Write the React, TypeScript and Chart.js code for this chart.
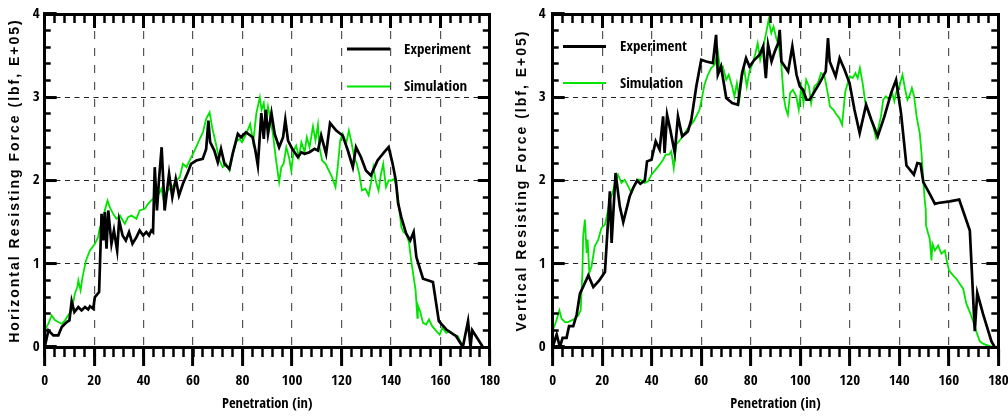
import React, { useEffect, useRef, useState } from 'react';
import { Chart, registerables } from 'chart.js';

Chart.register(...registerables);

// ---------- data ----------
const xTickStep = 20;
const xMinorStep = 4;
const yTickStep = 1;
const yMinorStep = 0.2;
const xRange = [0, 180];
const yRange = [0, 4];

const seriesLabels = ['Experiment', 'Simulation'];
const xTitle = 'Penetration (in)';
const leftYTitle = 'Horizontal Resisting Force (lbf, E+05)';
const rightYTitle = 'Vertical Resisting Force (lbf, E+05)';

const horizExpX = [0, 1.5, 3.5, 5.5, 6.9, 8.9, 10, 10.9, 12, 13.6, 14.9, 16.3, 17.6, 18.3, 19.6, 20.3, 22, 23, 23.7, 24.3, 25, 25.7, 27, 28, 29.3, 30.1, 31.5, 32.8, 34.1, 35.5, 37.1, 38.4, 39.8, 41.1, 42.2, 43.1, 43.8, 44.5, 45.4, 46.2, 47.3, 48.5, 50.3, 51.6, 53, 54.3, 55.9, 57.9, 59.2, 61.3, 63.9, 65.3, 66.2, 66.9, 68.6, 70, 71.3, 72.7, 74.7, 76, 78.1, 79.4, 81.4, 84.1, 85.2, 86.2, 87.6, 88.6, 89.4, 90.3, 91.7, 93, 94.8, 96.4, 97.3, 98.4, 100.1, 102.4, 103.8, 105.1, 107.1, 109.1, 110.5, 111.8, 113.8, 115.4, 117.9, 120.5, 122.6, 124.6, 125.9, 127.9, 129.9, 131.9, 134.6, 137.3, 139.1, 140.7, 142, 142.9, 144.2, 146.2, 147.8, 149.2, 150.3, 153, 157, 159.4, 162.4, 166.4, 169.1, 171.2, 172.2, 172.9, 177.2];
const horizExpY = [0, 0.2, 0.14, 0.14, 0.24, 0.3, 0.32, 0.55, 0.42, 0.48, 0.44, 0.48, 0.45, 0.49, 0.46, 0.6, 0.66, 1.6, 1.28, 1.62, 1.18, 1.64, 1.24, 1.4, 1.16, 1.52, 1.34, 1.28, 1.38, 1.24, 1.32, 1.4, 1.34, 1.38, 1.34, 1.4, 1.38, 2.16, 1.64, 2.0, 2.4, 1.64, 2.08, 1.8, 2.02, 1.82, 1.96, 2.1, 2.2, 2.24, 2.26, 2.38, 2.72, 2.46, 2.36, 2.22, 2.38, 2.2, 2.14, 2.32, 2.56, 2.52, 2.58, 2.52, 2.36, 2.18, 2.81, 2.5, 2.85, 2.56, 2.81, 2.56, 2.4, 2.52, 2.73, 2.48, 2.38, 2.28, 2.34, 2.32, 2.34, 2.38, 2.36, 2.54, 2.32, 2.69, 2.6, 2.54, 2.36, 2.16, 2.4, 2.28, 2.12, 2.06, 2.24, 2.34, 2.4, 2.2, 2.0, 1.73, 1.56, 1.36, 1.28, 1.38, 1.08, 0.82, 0.78, 0.31, 0.21, 0.13, 0, 0.31, 0, 0.2, 0];

const horizSimX = [0, 1.5, 2.8, 4.2, 5.5, 6.9, 8.2, 9.5, 10.9, 12.2, 13.2, 13.6, 14.5, 15.3, 16.7, 18.3, 20.3, 21.6, 22.3, 23.7, 24.3, 25.4, 26.3, 27.7, 29, 30.4, 32.4, 33.7, 35.1, 37.1, 38.4, 40.5, 41.8, 43.1, 44.5, 45.8, 47.2, 48.1, 49.2, 50.5, 51.6, 53.2, 54.6, 55.9, 57.3, 58.6, 60.6, 62.4, 64, 65.3, 66.7, 67.7, 69.1, 70.7, 72, 73.4, 74.7, 76.1, 77.4, 78.8, 79.8, 81.5, 83.1, 84.3, 85.6, 87, 87.7, 88.6, 89.4, 90.3, 91.3, 92.3, 93.4, 94.8, 95.7, 96.6, 97.7, 98.8, 99.7, 100.7, 101.7, 102.8, 103.8, 105.1, 106, 107.1, 108.5, 109.5, 110.5, 111.1, 112.2, 113.6, 114.9, 116.2, 117.6, 118.5, 119.5, 120.5, 121.9, 123, 123.9, 125.2, 126.2, 127.2, 128.3, 129.7, 131, 132, 132.9, 134, 135, 136, 136.9, 138, 139.1, 140.4, 141.3, 142.3, 143.3, 144.2, 145.1, 146.2, 147.3, 148.2, 149.2, 150, 150.7, 150.9, 151.9, 153, 154.3, 155.4, 156.7, 158.4, 159.7, 160.8, 162.4, 163.7, 165.1, 167.1, 169.1, 171.2, 173.2, 175.9, 179.2];
const horizSimY = [0.2, 0.28, 0.38, 0.32, 0.3, 0.28, 0.32, 0.38, 0.44, 0.64, 0.72, 0.8, 0.68, 0.84, 1.04, 1.16, 1.24, 1.32, 1.44, 1.48, 1.64, 1.76, 1.68, 1.6, 1.54, 1.58, 1.48, 1.56, 1.58, 1.54, 1.64, 1.66, 1.72, 1.76, 1.8, 1.82, 1.9, 1.76, 1.86, 1.9, 1.92, 2.0, 2.04, 2.2, 2.16, 2.24, 2.36, 2.48, 2.58, 2.74, 2.82, 2.64, 2.46, 2.24, 2.16, 2.2, 2.12, 2.32, 2.46, 2.5, 2.46, 2.56, 2.68, 2.46, 2.81, 3.0, 2.85, 2.93, 2.69, 2.89, 2.73, 2.56, 2.28, 1.98, 2.16, 2.2, 2.4, 2.28, 2.12, 2.36, 2.42, 2.28, 2.46, 2.34, 2.52, 2.4, 2.65, 2.48, 2.67, 2.4, 2.24, 2.2, 2.12, 2.04, 1.92, 2.16, 2.48, 2.56, 2.44, 2.6, 2.48, 2.28, 2.2, 2.08, 1.88, 1.9, 1.82, 1.98, 2.16, 1.98, 1.88, 2.08, 2.2, 1.92, 2.0, 2.0, 2.02, 1.92, 1.69, 1.44, 1.38, 1.36, 1.26, 1.04, 0.84, 0.68, 0.35, 0.5, 0.42, 0.29, 0.27, 0.33, 0.25, 0.19, 0.15, 0.23, 0.17, 0.19, 0.15, 0.13, 0, -0.04, 0, 0, 0];

const vertExpX = [0, 1.6, 2.9, 4, 5.6, 6.6, 8.3, 9.7, 11, 12.4, 14.4, 16.4, 18.8, 21.1, 23.1, 23.8, 25.4, 27.1, 28.5, 31.1, 32.5, 34.1, 35.4, 37.2, 38.1, 39.9, 41.6, 43.2, 44.6, 45.2, 46.2, 47.5, 49.3, 50.6, 52.3, 54.6, 56, 58, 60, 62, 64.7, 66, 66.7, 68, 70.1, 72.5, 74.8, 76.5, 78.1, 79.5, 81.5, 83.6, 85, 86.1, 87, 88.4, 89.7, 91.1, 91.7, 92.4, 95.1, 96.8, 98.5, 99.8, 101.1, 102.5, 103.8, 105.8, 107.8, 110.3, 111.2, 111.9, 114.3, 115.9, 117.9, 119.9, 121.9, 124, 126.6, 128.7, 131.3, 134, 136.7, 138.7, 140.7, 142.9, 145.9, 147.3, 148.6, 149.7, 152.3, 154.4, 155.7, 160.4, 164.2, 168.5, 170.5, 171.5, 173.8, 177.2, 178.5];
const vertExpY = [0, 0.15, 0, 0.11, 0.11, 0.25, 0.25, 0.39, 0.64, 0.73, 0.86, 0.72, 0.8, 0.9, 1.87, 1.25, 2.09, 1.69, 1.5, 1.81, 1.91, 2.0, 1.96, 2.0, 2.23, 2.25, 2.47, 2.37, 2.77, 2.33, 2.79, 2.61, 2.33, 2.77, 2.53, 2.59, 2.73, 3.13, 3.45, 3.43, 3.41, 3.75, 3.27, 3.37, 2.99, 2.93, 2.91, 3.29, 3.47, 3.37, 3.45, 3.51, 3.61, 3.23, 3.63, 3.43, 3.55, 3.65, 3.81, 3.43, 3.31, 3.61, 3.27, 3.13, 3.09, 2.97, 2.97, 3.07, 3.17, 3.31, 3.71, 3.43, 3.25, 3.47, 3.33, 3.17, 2.85, 2.57, 2.91, 2.73, 2.53, 2.77, 3.05, 3.21, 2.81, 2.18, 2.07, 2.21, 2.2, 1.98, 1.84, 1.72, 1.73, 1.75, 1.77, 1.4, 0.19, 0.65, 0.4, 0.07, 0];

const vertSimX = [0, 1.3, 2.7, 3.6, 5, 6.3, 7.6, 9, 10.3, 11.3, 12, 12.3, 13, 13.7, 14.1, 14.8, 15.7, 17, 18.4, 19.7, 21.1, 22.4, 23.1, 24.2, 25.1, 26.4, 27.8, 29.1, 30.5, 31.8, 32.8, 34.1, 35.4, 37.2, 38.5, 39.9, 41.6, 43.2, 44.6, 45.6, 47, 47.9, 48.9, 49.9, 51.5, 52.9, 54.2, 55.3, 56.9, 58.3, 59.3, 60.4, 61.3, 62.7, 64, 65.4, 66.7, 67.7, 68.7, 70.1, 71.1, 72.5, 73.4, 74.4, 75.4, 76.5, 77.4, 78.4, 79.5, 80.8, 81.9, 82.8, 83.8, 84.8, 86.2, 87.2, 88.3, 89.2, 90.3, 91.4, 92.3, 93.3, 94.1, 95, 95.9, 97, 98.4, 99.4, 100.4, 101.3, 102.4, 103.5, 104.4, 105.7, 107.1, 108.4, 109.8, 111.1, 112, 113.4, 114.7, 115.8, 116.9, 118.2, 119.2, 120.1, 121.2, 122.3, 123.2, 124.1, 125.2, 126.3, 127.2, 128.6, 129.5, 130.6, 131.7, 132.6, 133.5, 134.6, 135.9, 137, 138, 138.9, 140, 141.3, 142.4, 143.3, 144.3, 145.1, 146, 147, 148.3, 149, 149.7, 150.3, 150.7, 150.8, 151.7, 152.3, 153, 153.4, 154.4, 155.7, 157, 158.4, 159.3, 160.1, 161.7, 163.1, 164.4, 165.8, 167.1, 168.5, 169.8, 171.1, 172.5, 173.8, 176.5, 179.2];
const vertSimY = [0.2, 0.3, 0.44, 0.34, 0.3, 0.3, 0.32, 0.34, 0.38, 0.44, 0.89, 1.33, 1.53, 1.13, 1.29, 0.89, 0.97, 1.21, 1.29, 1.43, 1.47, 1.65, 1.77, 1.85, 1.97, 2.07, 1.97, 2.01, 1.93, 1.85, 1.93, 2.01, 2.01, 1.97, 1.99, 2.07, 2.13, 2.19, 2.25, 2.31, 2.31, 2.35, 2.15, 2.43, 2.49, 2.55, 2.61, 2.65, 2.71, 2.79, 2.85, 3.01, 3.15, 3.27, 3.35, 3.39, 3.55, 3.33, 3.37, 3.21, 3.27, 3.13, 3.01, 3.17, 2.97, 3.25, 3.33, 3.13, 3.31, 3.41, 3.53, 3.65, 3.45, 3.57, 3.77, 3.93, 3.77, 3.85, 3.71, 3.61, 3.41, 3.01, 2.87, 2.79, 3.05, 3.09, 3.01, 2.85, 3.13, 2.93, 3.21, 3.13, 2.93, 3.13, 3.17, 3.29, 3.25, 3.05, 2.89, 2.85, 2.79, 2.75, 2.67, 3.07, 3.17, 3.25, 3.23, 3.29, 3.23, 3.35, 3.17, 2.93, 2.85, 2.73, 2.65, 2.51, 2.65, 2.77, 2.97, 3.01, 2.97, 3.07, 2.95, 3.07, 3.13, 3.27, 3.09, 2.97, 3.03, 3.11, 3.01, 2.77, 2.56, 2.32, 2.0, 1.76, 1.65, 1.46, 1.36, 1.3, 1.04, 1.24, 1.16, 1.22, 1.12, 1.16, 1.02, 0.92, 0.86, 0.82, 0.76, 0.7, 0.52, 0.42, 0.31, 0.19, 0.07, 0.04, 0.01, 0];

// ---------- styles ----------
const SANS = '"Liberation Sans", Arial, sans-serif';
const GREEN = '#00e400';
const BLACK = '#000000';

interface NarrowFont {
  weight: string;
  family: string;
  titleSize: number;
  tickSize: number;
  legendSize: number;
}

function detectNarrowFont(): NarrowFont {
  const c = document.createElement('canvas').getContext('2d') as CanvasRenderingContext2D;
  const w = (f: string, s: string) => {
    c.font = '10px serif';
    c.font = f;
    if (c.font === '10px serif') return -1;
    return c.measureText(s).width;
  };
  const sample = 'Penetration (in) 0123456789 Experiment';
  const namedExists = (fam: string) =>
    w(`bold 20px ${fam}, monospace`, sample) !== w('bold 20px monospace', sample) &&
    w(`bold 20px ${fam}, serif`, sample) !== w('bold 20px serif', sample);
  const candidates = [
    { weight: 'bold', family: '"Liberation Sans Narrow"', named: true },
    { weight: 'bold', family: '"Arial Narrow"', named: true },
    { weight: 'bold', family: '"Noto Sans Condensed"', named: true },
    { weight: 'bold condensed', family: '"Noto Sans"', named: false },
    { weight: 'bold', family: '"Open Sans Condensed"', named: true },
    { weight: 'bold condensed', family: '"Open Sans"', named: false },
    { weight: 'bold', family: '"Roboto Condensed"', named: true },
    { weight: 'bold semi-condensed', family: '"Liberation Sans"', named: false },
    { weight: 'bold', family: '"DejaVu Sans Condensed"', named: true },
    { weight: 'bold semi-condensed', family: '"DejaVu Sans"', named: false },
  ];
  let chosen = { weight: 'bold', family: '"Liberation Sans"' };
  let narrow = false;
  for (const cand of candidates) {
    if (cand.named) {
      if (namedExists(cand.family)) { chosen = cand; narrow = true; break; }
    } else {
      const cw = w(`${cand.weight} 20px ${cand.family}`, sample);
      const nw = w(`bold 20px ${cand.family}`, sample);
      if (cw > 0 && nw > 0 && cw < 0.95 * nw) { chosen = cand; narrow = true; break; }
    }
  }
  const fam = `${chosen.family}, ${SANS}`;
  return {
    weight: chosen.weight,
    family: fam,
    titleSize: narrow ? 14.5 : 12.5,
    tickSize: narrow ? 15 : 13,
    legendSize: narrow ? 15 : 12.5,
  };
}

const toPoints = (xs: number[], ys: number[]) => xs.map((x, i) => ({ x, y: ys[i] }));

const noPad = (s: any) => {
  s.paddingLeft = 0;
  s.paddingRight = 0;
  s.paddingTop = 0;
  s.paddingBottom = 0;
};

const lineLegendPlugin = {
  id: 'lineLegend',
  afterDraw(chart: any, _args: any, opts: any) {
    const ctx = chart.ctx;
    chart.data.datasets.forEach((ds: any, i: number) => {
      const y = opts.y + i * opts.dy;
      ctx.save();
      ctx.strokeStyle = ds.borderColor;
      ctx.lineWidth = opts.widths[i];
      ctx.beginPath();
      ctx.moveTo(opts.x, y);
      ctx.lineTo(opts.x + opts.len, y);
      ctx.stroke();
      ctx.fillStyle = BLACK;
      ctx.font = opts.font;
      ctx.textBaseline = 'middle';
      ctx.textAlign = 'left';
      ctx.fillText(ds.label, opts.x + opts.len + opts.gap, y + 1);
      ctx.restore();
    });
  },
};

const spacedTitlePlugin = {
  id: 'spacedTitle',
  beforeDraw(chart: any, _args: any, opts: any) {
    const s: any = chart.scales.y;
    if (s && !s.__spaced) {
      const orig = s.drawTitle;
      s.drawTitle = function () {
        const c = this.ctx;
        c.save();
        c.letterSpacing = opts.spacing;
        orig.call(this);
        c.restore();
      };
      s.__spaced = true;
    }
  },
};

interface Spec {
  yTitle: string;
  exp: { x: number[]; y: number[] };
  sim: { x: number[]; y: number[] };
  leftW: number;
  padRight: number;
  titlePad: number;
  yTickPad: number;
  legend: { x: number; y: number; dy: number; len: number; gap: number; widths: number[] };
}

function buildConfig(spec: Spec, nf: NarrowFont): any {
  const tickFont = { family: nf.family, size: nf.tickSize, weight: nf.weight as any };
  const edgeX = (c: any) => c.tick && (c.tick.value === xRange[0] || c.tick.value === xRange[1]);
  const edgeY = (c: any) => c.tick && (c.tick.value === yRange[0] || c.tick.value === yRange[1]);
  const minorTickScale = (position: string, axis: 'x' | 'y', len: number) => ({
    type: 'linear',
    display: true,
    position,
    axis,
    weight: 0,
    min: axis === 'x' ? xRange[0] : yRange[0],
    max: axis === 'x' ? xRange[1] : yRange[1],
    ticks: { display: false, autoSkip: false, stepSize: axis === 'x' ? xMinorStep : yMinorStep },
    grid: { drawOnChartArea: false, drawTicks: true, tickLength: len, tickWidth: 2.5, tickColor: BLACK, tickBorderDash: [], z: 1 },
    border: { display: false },
    afterFit: (s: any) => {
      if (axis === 'x') s.height = 0; else s.width = 0;
      noPad(s);
    },
  });
  const majorEdgeScale = (position: string, axis: 'x' | 'y', len: number) => ({
    type: 'linear',
    display: true,
    position,
    axis,
    weight: 1,
    min: axis === 'x' ? xRange[0] : yRange[0],
    max: axis === 'x' ? xRange[1] : yRange[1],
    ticks: { display: false, autoSkip: false, stepSize: axis === 'x' ? xTickStep : yTickStep },
    grid: { drawOnChartArea: false, drawTicks: true, tickLength: len, tickWidth: 3, tickColor: BLACK, tickBorderDash: [], z: 1 },
    border: { display: true, width: 3, color: BLACK, z: 1 },
    afterFit: (s: any) => {
      if (axis === 'x') s.height = 0; else s.width = 0;
      noPad(s);
    },
  });

  return {
    type: 'line',
    data: {
      datasets: [
        {
          label: seriesLabels[0],
          data: toPoints(spec.exp.x, spec.exp.y),
          borderColor: BLACK,
          borderWidth: 2.7,
          pointRadius: 0,
          tension: 0,
          xAxisID: 'x',
          yAxisID: 'y',
        },
        {
          label: seriesLabels[1],
          data: toPoints(spec.sim.x, spec.sim.y),
          borderColor: GREEN,
          borderWidth: 1.8,
          pointRadius: 0,
          tension: 0,
          xAxisID: 'x',
          yAxisID: 'y',
        },
      ],
    },
    options: {
      responsive: false,
      animation: false,
      events: [],
      layout: { padding: { left: 0, right: spec.padRight, top: 14, bottom: 0 }, autoPadding: false },
      plugins: {
        legend: { display: false },
        tooltip: { enabled: false },
        lineLegend: { ...spec.legend, font: `${nf.weight} ${nf.legendSize}px ${nf.family}` },
        spacedTitle: { spacing: '2px' },
      },
      scales: {
        x: {
          type: 'linear',
          position: 'bottom',
          weight: 1,
          min: xRange[0],
          max: xRange[1],
          ticks: { stepSize: xTickStep, autoSkip: false, maxRotation: 0, padding: 6, color: BLACK, font: tickFont },
          grid: {
            drawOnChartArea: true,
            color: (c: any) => (edgeX(c) ? 'rgba(0,0,0,0)' : '#555555'),
            lineWidth: 1.2,
            tickLength: 19,
            tickWidth: 3,
            tickColor: BLACK,
            tickBorderDash: [],
          },
          border: { display: true, width: 3, color: BLACK, z: 1, dash: [8, 9] },
          title: {
            display: true,
            text: xTitle,
            color: BLACK,
            font: { family: nf.family, size: nf.titleSize, weight: nf.weight as any },
            padding: { top: 0, bottom: 4 },
          },
          afterFit: (s: any) => {
            s.height = 70;
            noPad(s);
          },
        },
        xMinor: minorTickScale('bottom', 'x', 10),
        xTop: majorEdgeScale('top', 'x', -14),
        xTopMinor: minorTickScale('top', 'x', -9),
        y: {
          type: 'linear',
          position: 'left',
          weight: 1,
          min: yRange[0],
          max: yRange[1],
          ticks: { stepSize: yTickStep, autoSkip: false, padding: spec.yTickPad, color: BLACK, font: tickFont },
          grid: {
            drawOnChartArea: true,
            color: (c: any) => (edgeY(c) ? 'rgba(0,0,0,0)' : '#222222'),
            lineWidth: 1.1,
            tickLength: -12,
            tickWidth: 3,
            tickColor: BLACK,
            tickBorderDash: [],
          },
          border: { display: true, width: 3, color: BLACK, z: 1, dash: [5, 4.5] },
          title: {
            display: true,
            text: spec.yTitle,
            color: BLACK,
            font: { family: SANS, size: 14, weight: 'bold' },
            padding: { top: spec.titlePad, bottom: 0 },
          },
          afterFit: (s: any) => {
            s.width = spec.leftW;
            noPad(s);
          },
        },
        yMinor: minorTickScale('left', 'y', -6),
        yRight: majorEdgeScale('right', 'y', -12),
        yRightMinor: minorTickScale('right', 'y', -7),
      },
    },
    plugins: [lineLegendPlugin, spacedTitlePlugin],
  };
}

const leftSpec: Spec = {
  yTitle: leftYTitle,
  exp: { x: horizExpX, y: horizExpY },
  sim: { x: horizSimX, y: horizSimY },
  leftW: 44.7,
  padRight: 510 - 489.8,
  titlePad: 6.6,
  yTickPad: 17,
  legend: { x: 347, y: 49, dy: 37.5, len: 43, gap: 14, widths: [3.2, 2] },
};

const rightSpec: Spec = {
  yTitle: rightYTitle,
  exp: { x: vertExpX, y: vertExpY },
  sim: { x: vertSimX, y: vertSimY },
  leftW: 52.7,
  padRight: 508 - 498.3,
  titlePad: 14,
  yTickPad: 19,
  legend: { x: 63, y: 46.5, dy: 36.5, len: 43, gap: 14, widths: [3.2, 2] },
};

function ChartCanvas({ spec, nf, width, height }: { spec: Spec; nf: NarrowFont; width: number; height: number }) {
  const ref = useRef<HTMLCanvasElement | null>(null);
  useEffect(() => {
    if (!ref.current) return;
    const chart = new Chart(ref.current, buildConfig(spec, nf));
    return () => chart.destroy();
  }, [spec, nf]);
  return <canvas ref={ref} width={width} height={height} style={{ width, height, display: 'block' }} />;
}

export default function App() {
  const [nf] = useState<NarrowFont>(() => detectNarrowFont());
  return (
    <div style={{ position: 'fixed', left: 0, top: 0, width: 1008, height: 417, background: '#ffffff' }}>
      <div style={{ position: 'absolute', left: 0, top: 0, width: 510, height: 417 }}>
        <ChartCanvas spec={leftSpec} nf={nf} width={510} height={417} />
      </div>
      <div style={{ position: 'absolute', left: 500, top: 0, width: 508, height: 417 }}>
        <ChartCanvas spec={rightSpec} nf={nf} width={508} height={417} />
      </div>
    </div>
  );
}
